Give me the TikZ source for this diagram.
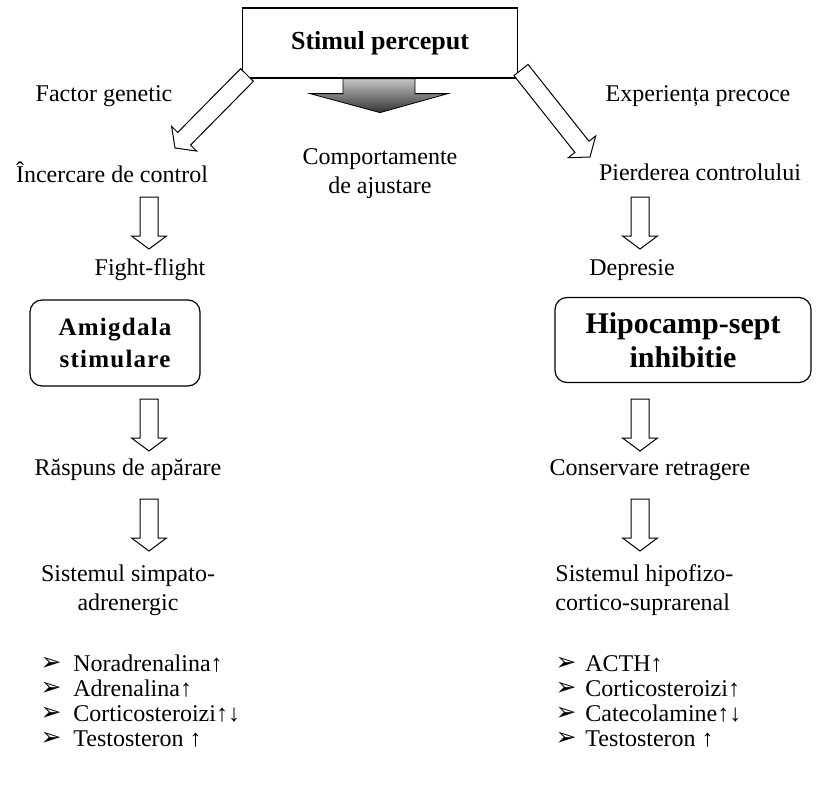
\documentclass[tikz,border=0pt]{standalone}
\usepackage{fontspec}
\setmainfont{Liberation Serif}
\newfontfamily\symbolfont{DejaVu Sans}
\usetikzlibrary{calc}

\tikzset{
	pfeil/.style={draw=black, line width=0.5pt, fill=white},
	txt/.style={font=\fontsize{12}{14.5}\selectfont, inner sep=0pt, align=center},
	kasten/.style={draw, rounded corners=6pt, line width=0.6pt, align=center, inner sep=0pt},
}

% hohler Pfeil von #1 nach #2
\newcommand{\hohlpfeil}[2]{%
	\coordinate (hb) at ($(#2)!6.5pt!(#1)$);
	\draw[pfeil] ($(#1)!4.5pt!90:(#2)$) -- ($(hb)!4.5pt!-90:(#1)$) -- ($(hb)!8.75pt!-90:(#1)$) -- (#2)
		-- ($(hb)!8.75pt!90:(#1)$) -- ($(hb)!4.5pt!90:(#1)$) -- ($(#1)!4.5pt!-90:(#2)$) -- cycle;
}
\newcommand{\spitze}{{\symbolfont\fontsize{12.5}{12.5}\selectfont ➢}}

\begin{document}
\begin{tikzpicture}[x=0.5pt, y=-0.5pt]
		\useasboundingbox (0,0) rectangle (840,787);
		
		%Kopf
		\node[draw, line width=0.6pt, minimum width=137.5pt, minimum height=35pt, font=\bfseries\fontsize{13}{16}\selectfont] (titel) at (380,43) {Stimul perceput};
		\shadedraw[top color=gray!45, bottom color=black!80, line width=0.4pt]
			($(titel.south)+(-37,0)$) -- ($(titel.south)+(-37,15)$) -- ($(titel.south)+(-70,15)$) -- ($(titel.south)+(0,34)$)
			-- ($(titel.south)+(68,15)$) -- ($(titel.south)+(35,15)$) -- ($(titel.south)+(35,0)$) -- cycle;
		\node[txt] (ajust) at (380,174) {Comportamente\\de ajustare};
		
		\node[txt] (genetic) at (104,96) {Factor genetic};
		\node[txt] (precoce) at (698,96) {Experiența precoce};
		\node[txt] (control) at (112,172) {Încercare de control};
		\node[txt] (pierdere) at (700,172) {Pierderea controlului};
		
		\coordinate (ls) at (247,75);
		\coordinate (lt) at (175,148);
		\coordinate (rs) at (521,70);
		\coordinate (rt) at (590,157);
		\hohlpfeil{ls}{lt}
		\hohlpfeil{rs}{rt}
		
		%linke Seite
		\node[txt] (fight) at (150,270) {Fight-flight};
		\node[kasten, minimum width=85pt, minimum height=43pt, font=\bfseries\fontsize{12.5}{16}\selectfont\addfontfeatures{LetterSpace=5}] (amig) at (115,343) {Amigdala\\stimulare};
		\node[txt] (raspuns) at (128,470) {Răspuns de apărare};
		\node[txt] (simpato) at (128,590) {Sistemul simpato-\\adrenergic};
		
		%rechte Seite
		\node[txt] (depresie) at (632,270) {Depresie};
		\node[kasten, minimum width=128pt, minimum height=42.5pt, font=\bfseries\fontsize{15}{17}\selectfont] (hipo) at (683,340) {Hipocamp-sept\\inhibitie};
		\node[txt] (conserv) at (650,470) {Conservare retragere};
		\node[txt, anchor=west, align=left] (hipofizo) at (555,590) {Sistemul hipofizo-\\cortico-suprarenal};
		
		%Pfeile nach unten
		\foreach \x in {149,640} {
			\foreach \y in {197,399,499} {
				\coordinate (a) at (\x,\y);
				\coordinate (b) at (\x,\y+52);
				\hohlpfeil{a}{b}
			}
		}
		
		%Listen
		\foreach \t [count=\i] in {Noradrenalina↑, Adrenalina↑, Corticosteroizi↑↓, Testosteron ↑} {
			\node[txt] (lb\i) at (51,639+25*\i) {\spitze};
			\node[txt, anchor=west] (l\i) at (73,639+25*\i) {\t};
		}
		\foreach \t [count=\i] in {ACTH↑, Corticosteroizi↑, Catecolamine↑↓, Testosteron ↑} {
			\node[txt] (rb\i) at (566,639+25*\i) {\spitze};
			\node[txt, anchor=west] (r\i) at (585,639+25*\i) {\t};
		}
	\end{tikzpicture}
\end{document}
